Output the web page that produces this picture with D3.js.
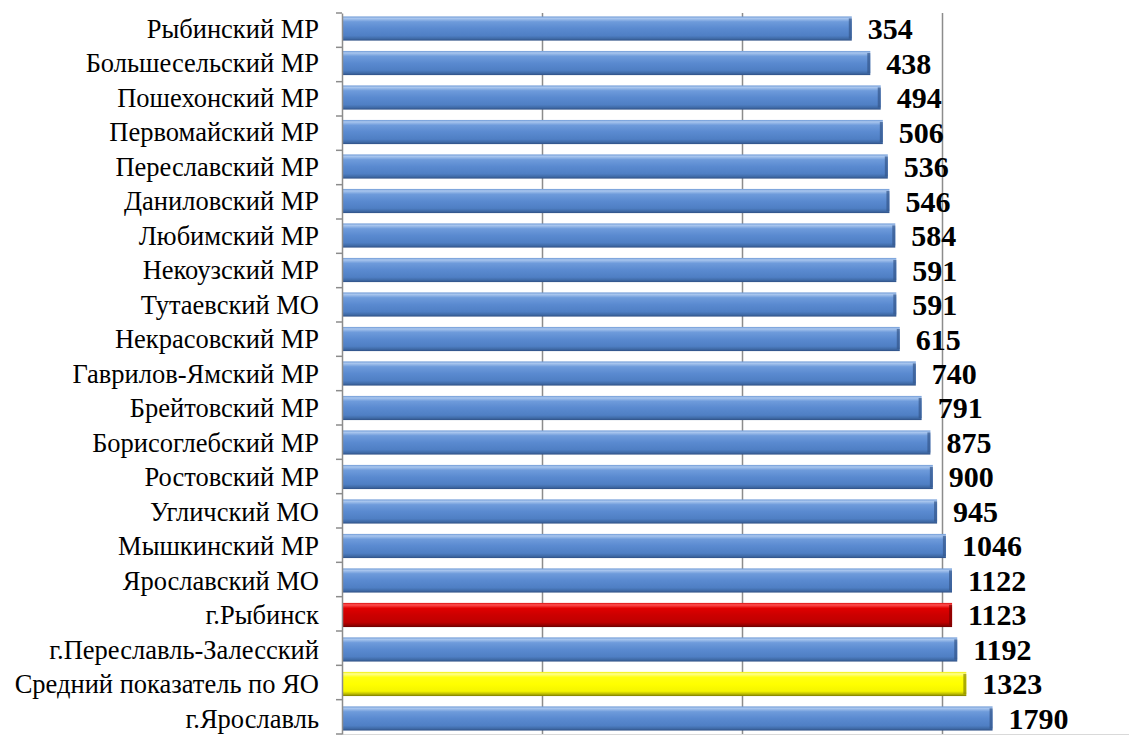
<!DOCTYPE html>
<html><head><meta charset="utf-8">
<script src="https://cdn.jsdelivr.net/npm/d3@7"></script>
<style>body{margin:0;background:#fff}svg{display:block}</style>
</head><body>
<svg id="c" width="1129" height="735"></svg>
<script>
const categories = ["Рыбинский МР","Большесельский МР","Пошехонский МР","Первомайский МР","Переславский МР","Даниловский МР","Любимский МР","Некоузский МР","Тутаевский МО","Некрасовский МР","Гаврилов-Ямский МР","Брейтовский МР","Борисоглебский МР","Ростовский МР","Угличский МО","Мышкинский МР","Ярославский МО","г.Рыбинск","г.Переславль-Залесский","Средний показатель по ЯО","г.Ярославль"];
const values = [354,438,494,506,536,546,584,591,591,615,740,791,875,900,945,1046,1122,1123,1192,1323,1790];
const highlight = {"г.Рыбинск":"red","Средний показатель по ЯО":"yellow"};
const gridTicks = [10,100,1000];

(function(){
const FONT = "'Liberation Serif'";
const svg = d3.select("#c");
const L = 342, R = 1142, T = 13, B = 734;
const x = d3.scaleLog().domain([1,10000]).range([L,R]);
const y = d3.scaleBand().domain(categories).range([T,B]).paddingInner(0.3).paddingOuter(0.1);

const defs = svg.append("defs");
function grad(id, stops){
  const g = defs.append("linearGradient").attr("id",id).attr("x1",0).attr("y1",0).attr("x2",0).attr("y2",1);
  stops.forEach(s=>g.append("stop").attr("offset",s[0]).attr("stop-color",s[1]));
}
grad("gblue",[[0,"#6f9ad6"],[0.08,"#a9c6ee"],[0.22,"#6e9bdb"],[0.5,"#5a8ad0"],[0.8,"#4f7fc4"],[0.92,"#3f6aa6"],[1,"#2f5085"]]);
grad("gred",[[0,"#d81010"],[0.08,"#ff5050"],[0.22,"#e00000"],[0.5,"#cc0000"],[0.8,"#c00000"],[0.92,"#960000"],[1,"#6a0000"]]);
grad("gyel",[[0,"#f0f000"],[0.08,"#ffff90"],[0.22,"#ffff10"],[0.5,"#ffff00"],[0.8,"#f5f500"],[0.92,"#b8b800"],[1,"#7a7a00"]]);
const fillFor = c => highlight[c]==="red" ? "url(#gred)" : highlight[c]==="yellow" ? "url(#gyel)" : "url(#gblue)";
const edgeFor = c => highlight[c]==="red" ? "#7a0000" : highlight[c]==="yellow" ? "#8a8a00" : "#35578c";

svg.append("g").selectAll("line").data(gridTicks).join("line")
  .attr("x1",d=>Math.round(x(d))+0.5).attr("x2",d=>Math.round(x(d))+0.5)
  .attr("y1",T).attr("y2",B)
  .attr("stroke","#8c8c8c").attr("stroke-width",1.5);
svg.append("line").attr("x1",L).attr("x2",1129).attr("y1",B+0.5).attr("y2",B+0.5)
  .attr("stroke","#d9d9d9").attr("stroke-width",1);

const bars = svg.append("g").selectAll("g").data(categories).join("g");
bars.append("rect")
  .attr("x",L+1).attr("y",c=>y(c))
  .attr("width",(c,i)=>x(values[i])-L-1).attr("height",y.bandwidth())
  .attr("fill",c=>fillFor(c));
bars.append("rect")
  .attr("x",(c,i)=>x(values[i])-3).attr("y",c=>y(c)+2)
  .attr("width",3).attr("height",y.bandwidth()-4)
  .attr("fill",c=>edgeFor(c)).attr("opacity",0.7);

const axis = d3.axisLeft(y).tickSize(0).tickFormat("");
const ag = svg.append("g").attr("transform",`translate(${L},0)`).call(axis);
ag.select(".domain").attr("stroke","#8c8c8c").attr("stroke-width",1.5);
const bounds = d3.range(categories.length+1).map(i=>T + i*(B-T)/categories.length);
svg.append("g").selectAll("line").data(bounds).join("line")
  .attr("x1",L-6).attr("x2",L).attr("y1",d=>d).attr("y2",d=>d)
  .attr("stroke","#8c8c8c").attr("stroke-width",1.5);

svg.append("g").selectAll("text").data(categories).join("text")
  .attr("x",319).attr("y",c=>y(c)+y.bandwidth()/2)
  .attr("dy","0.35em").attr("text-anchor","end")
  .style("font-family",FONT).style("font-size","26.5px")
  .attr("fill","#000").text(c=>c);

svg.append("g").selectAll("text").data(categories).join("text")
  .attr("x",(c,i)=>x(values[i])+16).attr("y",c=>y(c)+y.bandwidth()/2)
  .attr("dy","0.35em").attr("text-anchor","start")
  .style("font-family",FONT).style("font-size","30px").style("font-weight","bold")
  .attr("fill","#000").text((c,i)=>values[i]);
})();
</script>
</body></html>
